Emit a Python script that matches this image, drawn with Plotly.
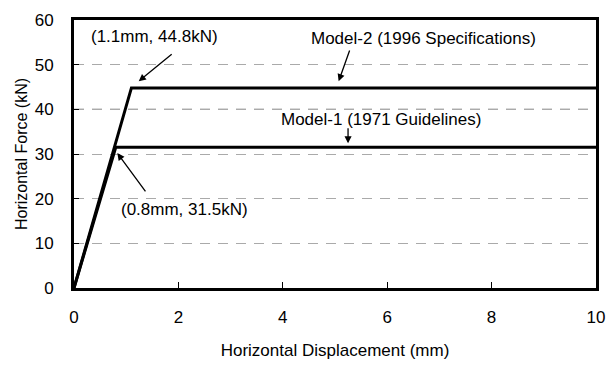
import plotly.graph_objects as go

# Data
model1_x = [0, 0.8, 10]
model1_y = [0, 31.5, 31.5]
model2_x = [0, 1.1, 10]
model2_y = [0, 44.8, 44.8]
x_ticks = [0, 2, 4, 6, 8, 10]
y_ticks = [0, 10, 20, 30, 40, 50, 60]
dark_grid = [40]

FONT = "Liberation Sans, Arial, sans-serif"

fig = go.Figure()
fig.add_trace(go.Scatter(x=model1_x, y=model1_y, mode="lines",
                         line=dict(color="black", width=3), showlegend=False))
fig.add_trace(go.Scatter(x=model2_x, y=model2_y, mode="lines",
                         line=dict(color="black", width=3), showlegend=False))

for yv in dark_grid:
    fig.add_shape(type="line", xref="paper", yref="y", x0=0, x1=1, y0=yv, y1=yv,
                  line=dict(color="#222", width=1, dash="10px,8px"), layer="below")

# text labels
texts = [
    ("(1.1mm, 44.8kN)", 1.55, 56.3),
    ("(0.8mm, 31.5kN)", 2.12, 17.6),
    ("Model-2 (1996 Specifications)", 6.70, 55.9),
    ("Model-1 (1971 Guidelines)", 5.89, 37.8),
]
for t, x, y in texts:
    fig.add_annotation(x=x, y=y, text=t, showarrow=False,
                       font=dict(family=FONT, size=17, color="black"))

# arrows (tail -> head)
arrows = [
    (1.90, 52.6, 1.24, 46.3),
    (1.39, 21.3, 0.83, 30.2),
    (5.29, 53.5, 5.07, 46.3),
    (5.25, 36.1, 5.25, 32.4),
]
for ax, ay, x, y in arrows:
    fig.add_annotation(x=x, y=y, ax=ax, ay=ay, xref="x", yref="y", axref="x", ayref="y",
                       text="", showarrow=True, arrowhead=2, arrowsize=1.1,
                       arrowwidth=1.3, arrowcolor="black")

fig.update_layout(
    width=616, height=368,
    margin=dict(l=74, r=11, t=13, b=79),
    paper_bgcolor="white", plot_bgcolor="white",
    font=dict(family=FONT, size=17, color="black"),
    xaxis=dict(range=[0, 10], tickvals=x_ticks, showgrid=False, zeroline=False,
               showline=True, linecolor="black", linewidth=3, mirror=True,
               ticks="inside", ticklen=6, tickwidth=1, tickcolor="black",
               ticklabelstandoff=12,
               title=dict(text="Horizontal Displacement (mm)", standoff=18,
                          font=dict(size=17)),
               tickfont=dict(size=17)),
    yaxis=dict(range=[0, 60], tickvals=y_ticks, showgrid=True, gridcolor="#aaa",
               griddash="10px,8px", gridwidth=1, zeroline=False,
               showline=True, linecolor="black", linewidth=3, mirror=True,
               ticks="inside", ticklen=5, tickwidth=1, tickcolor="black",
               ticklabelstandoff=14,
               title=dict(text="Horizontal Force (kN)", standoff=4,
                          font=dict(size=16)),
               tickfont=dict(size=17)),
)

fig.write_html("out.html")
